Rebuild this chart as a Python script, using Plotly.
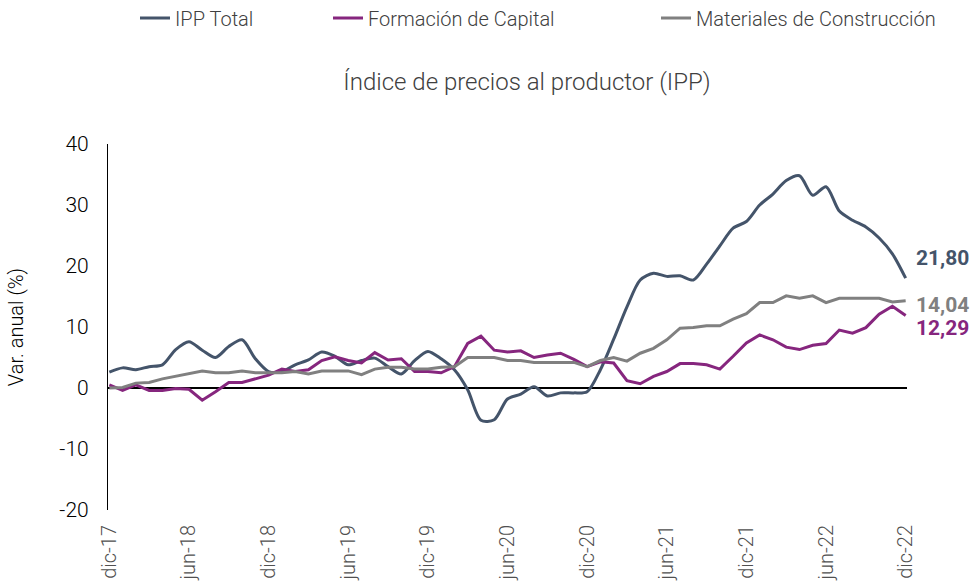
import plotly.graph_objects as go

month_abbr = ["ene", "feb", "mar", "abr", "may", "jun", "jul", "ago", "sep", "oct", "nov", "dic"]
months = ["dic-17"] + [f"{m}-{y}" for y in ["18", "19", "20", "21", "22"] for m in month_abbr]
tick_labels = ["dic-17", "jun-18", "dic-18", "jun-19", "dic-19", "jun-20",
               "dic-20", "jun-21", "dic-21", "jun-22", "dic-22"]
y_ticks = [-20, -10, 0, 10, 20, 30, 40]
y_tick_text = ["-20", "-10", "0", "10", "20", "30", "40"]

ipp_total = [2.6, 3.3, 3.0, 3.5, 3.8, 6.3, 7.6, 6.2, 5.0, 6.8,
             7.9, 4.8, 2.7, 2.7, 3.8, 4.6, 5.9, 5.2, 3.8, 4.5,
             4.9, 3.5, 2.3, 4.5, 6.0, 4.8, 3.0, -0.3, -5.3, -5.2,
             -1.8, -1.0, 0.2, -1.3, -0.8, -0.8, -0.6, 3.0, 8.0, 13.3,
             17.7, 18.8, 18.3, 18.4, 17.7, 20.3, 23.3, 26.2, 27.3, 30.0,
             31.8, 34.0, 34.8, 31.6, 33.0, 29.0, 27.5, 26.4, 24.6, 22.0, 18.0]
formacion_capital = [0.5, -0.4, 0.5, -0.4, -0.4, -0.1, -0.2, -2.0, -0.6, 0.9,
                     0.9, 1.5, 2.1, 3.1, 2.7, 3.0, 4.5, 5.1, 4.5, 4.1,
                     5.8, 4.6, 4.8, 2.7, 2.7, 2.5, 3.5, 7.3, 8.5, 6.2,
                     5.9, 6.1, 5.0, 5.4, 5.7, 4.7, 3.5, 4.3, 4.1, 1.2,
                     0.7, 1.9, 2.7, 4.0, 4.0, 3.8, 3.1, 5.2, 7.4, 8.7,
                     7.9, 6.7, 6.3, 7.0, 7.3, 9.5, 9.0, 9.9, 12.1, 13.4, 11.9]
materiales = [0.0, 0.1, 0.8, 0.9, 1.5, 1.9, 2.4, 2.8, 2.5, 2.5,
              2.8, 2.5, 2.5, 2.5, 2.7, 2.3, 2.8, 2.8, 2.8, 2.2,
              3.1, 3.4, 3.4, 3.1, 3.1, 3.4, 3.5, 5.0, 5.0, 5.0,
              4.5, 4.5, 4.2, 4.2, 4.2, 4.2, 3.5, 4.5, 5.0, 4.4,
              5.7, 6.5, 7.9, 9.8, 9.9, 10.2, 10.2, 11.3, 12.2, 14.0,
              14.0, 15.1, 14.7, 15.1, 14.0, 14.7, 14.7, 14.7, 14.7, 14.1, 14.3]

end_labels = ["21,80", "14,04", "12,29"]
end_label_y = [21.3, 13.6, 9.8]

C_IPP = "#44546A"
C_FC = "#86267E"
C_MAT = "#808080"
FONT = "Roboto"
TXT = "#404040"

fig = go.Figure()
fig.add_trace(go.Scatter(x=months, y=ipp_total, name="IPP Total", mode="lines",
                         line=dict(color=C_IPP, width=3, shape="spline", smoothing=0.8),
                         legend="legend"))
fig.add_trace(go.Scatter(x=months, y=formacion_capital, name="Formación de Capital", mode="lines",
                         line=dict(color=C_FC, width=3), legend="legend2"))
fig.add_trace(go.Scatter(x=months, y=materiales, name="Materiales de Construcción", mode="lines",
                         line=dict(color=C_MAT, width=3), legend="legend3"))

for txt, yv, col in zip(end_labels, end_label_y, [C_IPP, C_MAT, C_FC]):
    fig.add_annotation(x=months[-1], y=yv, xref="x", yref="y", text=f"<b>{txt}</b>",
                       showarrow=False, xanchor="left", xshift=8,
                       font=dict(family=FONT, size=21, color=col))

W0, W = 108, 799
leg_y = (510 - 18) / 366
leg_common = dict(orientation="h", yanchor="middle", xanchor="left", y=leg_y,
                  font=dict(family=FONT, size=20, color=TXT, weight=300),
                  bgcolor="rgba(0,0,0,0)", itemwidth=30)

fig.update_layout(
    width=977, height=587,
    margin=dict(l=108, r=70, t=144, b=77, autoexpand=False),
    paper_bgcolor="white", plot_bgcolor="white",
    font=dict(family=FONT, color=TXT),
    title=dict(text="Índice de precios al productor (IPP)", x=527 / 977, xanchor="center",
               y=1 - 82 / 587, yanchor="middle", yref="container",
               font=dict(family=FONT, size=24, color=TXT, weight=300)),
    legend=dict(x=(135 - W0) / W, **leg_common),
    legend2=dict(x=(328 - W0) / W, **leg_common),
    legend3=dict(x=(656 - W0) / W, **leg_common),
    showlegend=True,
)
fig.update_xaxes(type="category", range=[-0.1, 60.1], showgrid=False, showline=False,
                 zeroline=False, tickmode="array", tickvals=tick_labels, ticktext=tick_labels,
                 tickangle=-90, ticks="", automargin=False, ticklabelstandoff=10,
                 tickfont=dict(family=FONT, size=20, color="#505050", weight=300))
fig.update_yaxes(range=[-20, 40], tickmode="array", tickvals=y_ticks, ticktext=y_tick_text,
                 showgrid=False, showline=True, linecolor="black",
                 linewidth=1.2, zeroline=True, zerolinecolor="black", zerolinewidth=1.5,
                 ticks="", automargin=False, ticklabelstandoff=14,
                 tickfont=dict(family=FONT, size=21, color="black", weight=300),
                 title=dict(text="Var. anual (%)", font=dict(family=FONT, size=20, color="black", weight=300),
                            standoff=30))

fig.write_html("out.html", config={"displayModeBar": False},
               post_script="document.body.style.margin='0';")
